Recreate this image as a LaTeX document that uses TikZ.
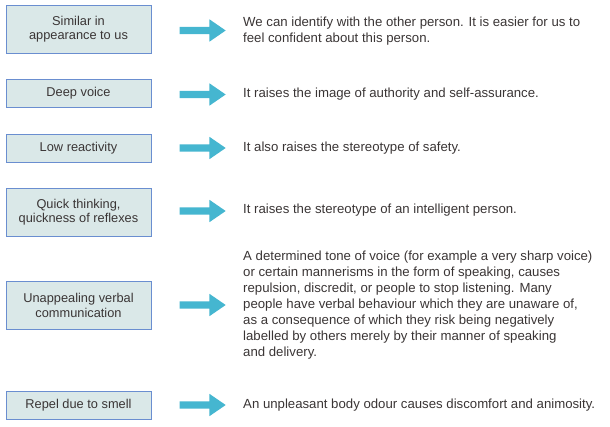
\documentclass[tikz,border=0pt]{standalone}
\usepackage{fontspec}
\setmainfont{Liberation Sans}
\usetikzlibrary{shapes.arrows}

\definecolor{boxfill}{HTML}{DAE8E8}
\definecolor{boxline}{HTML}{6A8ED0}
\definecolor{arrowcol}{HTML}{45B6D0}
\definecolor{inkcol}{HTML}{3A3535}

\begin{document}
\begin{tikzpicture}[x=1pt, y=-1pt]
\tikzset{every node/.style={text=inkcol, font=\fontsize{12.8}{14.5}\selectfont},
  trait/.style={draw=boxline, fill=boxfill, line width=1pt, align=center, minimum width=145pt, inner sep=0pt},
  onerow/.style={trait, minimum height=28pt},
  tworow/.style={trait, minimum height=48pt},
  effect/.style={anchor=west, align=left, inner sep=0pt, font=\fontsize{13.2}{16}\selectfont},
  bigarrow/.style={single arrow, fill=arrowcol, draw=none, inner sep=3.5pt, minimum height=46pt,
    single arrow head extend=7.5pt, single arrow tip angle=69}}
% page size
\useasboundingbox (0,0) rectangle (610,426);

% left column
\node[tworow] (b1) at (78.5,29) {Similar in\\appearance to us};
\node[onerow] (b2) at (78.5,93) {Deep voice};
\node[onerow] (b3) at (78.5,148) {Low reactivity};
\node[tworow] (b4) at (78.5,212) {Quick thinking,\\quickness of reflexes};
\node[tworow] (b5) at (78.5,305.5) {Unappealing verbal\\communication};
\node[onerow] (b6) at (78.5,405) {Repel due to smell};

% arrows
\node[bigarrow] (a1) at (200,30.5) {};
\node[bigarrow] (a2) at (200,94.5) {};
\node[bigarrow] (a3) at (200,148) {};
\node[bigarrow] (a4) at (200,211) {};
\node[bigarrow] (a5) at (200,305) {};
\node[bigarrow] (a6) at (200,405) {};

% right column
\node[effect] (t1) at (243,31) {We can identify with the other person. It is easier for us to\\feel confident about this person.};
\node[effect] (t2) at (243,94) {It raises the image of authority and self-assurance.};
\node[effect] (t3) at (243,148) {It also raises the stereotype of safety.};
\node[effect] (t4) at (243,210) {It raises the stereotype of an intelligent person.};
\node[effect] (t5) at (243,305) {A determined tone of voice (for example a very sharp voice)\\or certain mannerisms in the form of speaking, causes\\repulsion, discredit, or people to stop listening. Many\\people have verbal behaviour which they are unaware of,\\as a consequence of which they risk being negatively\\labelled by others merely by their manner of speaking\\and delivery.};
\node[effect] (t6) at (243,405) {An unpleasant body odour causes discomfort and animosity.};

\end{tikzpicture}
\end{document}
